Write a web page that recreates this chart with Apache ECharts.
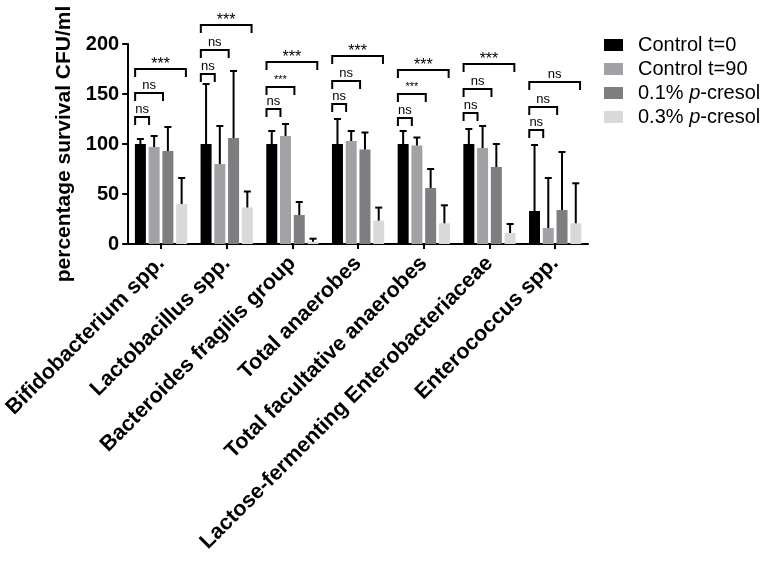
<!DOCTYPE html>
<html>
<head>
<meta charset="utf-8">
<script src="https://cdn.jsdelivr.net/npm/echarts@6/dist/echarts.min.js"></script>
<style>
  html, body { margin: 0; padding: 0; background: #fff; }
  #chart { width: 769px; height: 561px; }
</style>
</head>
<body>
<div id="chart"></div>
<script>
// ---------- data ----------
const categories = [
  'Bifidobacterium spp.',
  'Lactobacillus spp.',
  'Bacteroides fragilis group',
  'Total anaerobes',
  'Total facultative anaerobes',
  'Lactose-fermenting Enterobacteriaceae',
  'Enterococcus spp.'
];
const seriesNames = ['Control t=0', 'Control t=90', '0.1% p-cresol', '0.3% p-cresol'];

const control0      = [100, 100, 100, 100, 100, 100, 33];
const control0Err   = [5, 60, 13, 25, 13, 15, 66];
const control90     = [97, 80, 108, 103, 98.5, 96, 16];
const control90Err  = [11, 38, 12, 10, 8, 22, 50];
const cresol01      = [93, 106, 29, 94.5, 56, 77, 34];
const cresol01Err   = [24, 67, 13, 17, 19, 23, 58];
const cresol03      = [40, 36.5, 2.3, 23.4, 20.7, 11, 20.7];
const cresol03Err   = [26, 16, 3, 13, 18, 9, 40];

// significance brackets: levels (y value of the horizontal bar) for comparisons
// t=0 vs t=90, t=0 vs 0.1%, t=0 vs 0.3%
const bracketLevels = [
  [127, 151, 175],
  [170, 194, 219],
  [135, 157, 182],
  [140, 163, 188],
  [126, 150, 174],
  [131, 155, 180],
  [114, 137, 162]
];
const bracketLabels = [
  ['ns', 'ns', '***'],
  ['ns', 'ns', '***'],
  ['ns', '***', '***'],
  ['ns', 'ns', '***'],
  ['ns', '***', '***'],
  ['ns', 'ns', '***'],
  ['ns', 'ns', 'ns']
];
const bracketSmall = [
  [0, 0, 0], [0, 0, 0], [0, 1, 0], [0, 0, 0], [0, 1, 0], [0, 0, 0], [0, 0, 0]
];

const yTicks = { min: 0, max: 200, interval: 50 };

// ---------- styling ----------
const FONT = '"Liberation Sans", Arial, Helvetica, sans-serif';
const colors = ['#000000', '#a2a2a6', '#7e7e80', '#d9d9d9'];
const BAR_W = 11, BAR_GAP = 2.75;
const BR_LEFT = -26 / 66;
const BR_RIGHT = [-12 / 66, 2 / 66, 25 / 66];
const DROP = 8;

const means = [control0, control90, cresol01, cresol03];
const errs = [control0Err, control90Err, cresol01Err, cresol03Err];

const barSeries = seriesNames.map((n, i) => ({
  name: n,
  type: 'bar',
  data: means[i],
  barWidth: BAR_W,
  barGap: (BAR_GAP / BAR_W * 100) + '%',
  itemStyle: { color: colors[i] },
  silent: true,
  z: 2
}));

const errSeries = seriesNames.map((n, i) => ({
  type: 'custom',
  name: n + ' err',
  data: means[i].map((v, k) => [k, v, v + errs[i][k]]),
  encode: { x: 0, y: [1, 2] },
  silent: true,
  z: 5,
  renderItem: function (params, api) {
    const k = api.value(0);
    const base = api.coord([k, api.value(1)]);
    const top = api.coord([k, api.value(2)]);
    const x = base[0] + (i - 1.5) * (BAR_W + BAR_GAP);
    const st = { stroke: '#000', lineWidth: 2 };
    return {
      type: 'group',
      children: [
        { type: 'line', shape: { x1: x, y1: base[1], x2: x, y2: top[1] }, style: st },
        { type: 'line', shape: { x1: x - 3.5, y1: top[1], x2: x + 3.5, y2: top[1] }, style: st }
      ]
    };
  }
}));

const bracketData = [];
const bracketMeta = [];
bracketLevels.forEach((lv, k) => {
  lv.forEach((y, j) => {
    bracketData.push([k, y, j]);
    bracketMeta.push({ label: bracketLabels[k][j], small: bracketSmall[k][j] });
  });
});

const bracketSeries = {
  type: 'custom',
  name: 'brackets',
  data: bracketData,
  encode: { x: 0, y: 1 },
  silent: true,
  clip: false,
  z: 6,
  renderItem: function (params, api) {
    const k = api.value(0), lvl = api.value(1), j = api.value(2);
    const meta = bracketMeta[params.dataIndex];
    const c = api.coord([k, lvl]);
    const low = api.coord([k, lvl - DROP]);
    const band = api.size([1, 0])[0];
    const x1 = c[0] + band * BR_LEFT;
    const x2 = c[0] + band * BR_RIGHT[j];
    const st = { stroke: '#000', lineWidth: 2, fill: null };
    let fs, dy;
    if (meta.label === 'ns') { fs = 13; dy = 8; }
    else if (meta.small) { fs = 11; dy = 7.5; }
    else { fs = 16; dy = 4; }
    return {
      type: 'group',
      children: [
        { type: 'polyline', shape: { points: [[x1, low[1]], [x1, c[1]], [x2, c[1]], [x2, low[1]]] }, style: st },
        {
          type: 'text',
          style: {
            text: meta.label,
            x: (x1 + x2) / 2,
            y: c[1] - dy,
            align: 'center',
            verticalAlign: 'middle',
            font: fs + 'px ' + FONT,
            fill: '#000'
          }
        }
      ]
    };
  }
};

const chart = echarts.init(document.getElementById('chart'), null, { renderer: 'canvas' });
chart.setOption({
  animation: false,
  backgroundColor: '#fff',
  textStyle: { fontFamily: FONT },
  grid: { left: 127, right: 181, top: 44, bottom: 317, containLabel: false },
  legend: {
    data: seriesNames,
    orient: 'vertical',
    left: 604,
    top: 35,
    padding: 0,
    icon: 'rect',
    itemWidth: 19,
    itemHeight: 12,
    itemGap: 4,
    selectedMode: false,
    formatter: function (name) {
      return name.replace(' p-', ' {i|p}-');
    },
    textStyle: {
      fontFamily: FONT,
      fontSize: 20,
      color: '#000',
      lineHeight: 20,
      padding: [0, 0, 0, 10],
      rich: {
        i: { fontStyle: 'italic', fontSize: 20, fontFamily: FONT, color: '#000' }
      }
    }
  },
  xAxis: {
    type: 'category',
    data: categories,
    axisLine: { show: true, lineStyle: { color: '#000', width: 2 } },
    axisTick: { show: true, alignWithLabel: true, length: 5, lineStyle: { color: '#000', width: 2 } },
    axisLabel: {
      rotate: 45,
      interval: 0,
      margin: 16,
      color: '#000',
      fontFamily: FONT,
      fontWeight: 'bold',
      fontSize: 21.5
    },
    splitLine: { show: false }
  },
  yAxis: {
    type: 'value',
    min: yTicks.min,
    max: yTicks.max,
    interval: yTicks.interval,
    name: 'percentage survival CFU/ml',
    nameLocation: 'middle',
    nameGap: 43,
    nameRotate: 90,
    nameTextStyle: { color: '#000', fontFamily: FONT, fontWeight: 'bold', fontSize: 21 },
    axisLine: { show: true, lineStyle: { color: '#000', width: 2 } },
    axisTick: { show: true, length: 6, lineStyle: { color: '#000', width: 2 } },
    axisLabel: { color: '#000', fontFamily: FONT, fontWeight: 'bold', fontSize: 20, margin: 9 },
    splitLine: { show: false }
  },
  series: [...barSeries, ...errSeries, bracketSeries]
});
</script>
</body>
</html>
